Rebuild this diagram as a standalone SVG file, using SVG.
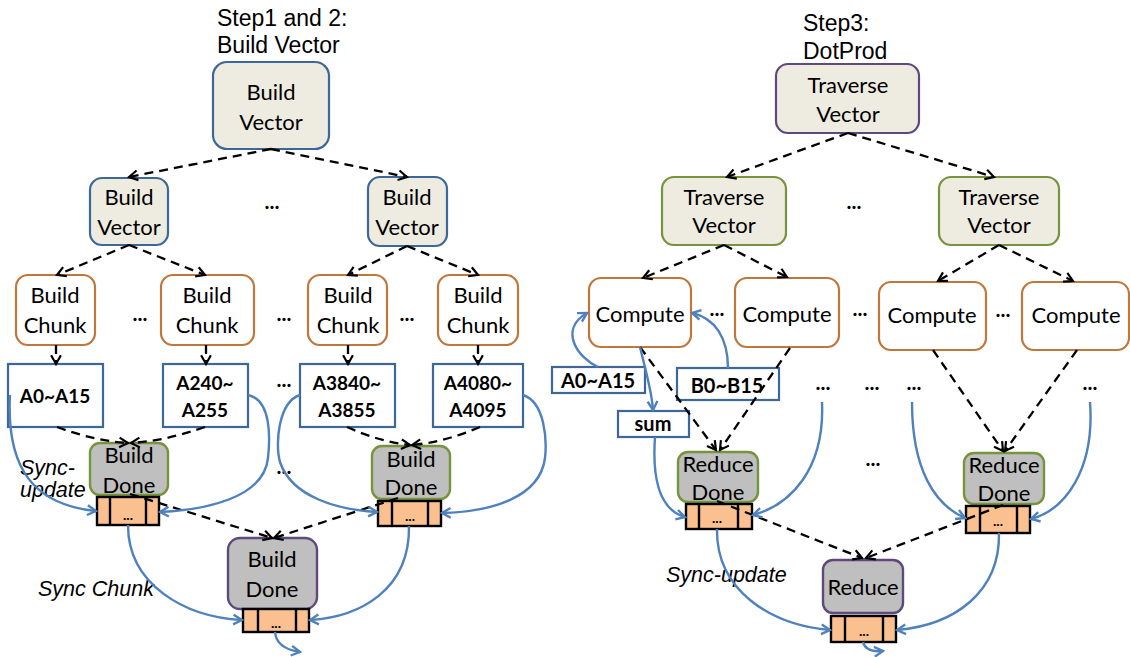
<svg xmlns="http://www.w3.org/2000/svg" width="1130" height="657" viewBox="0 0 1130 657">
  <defs>
    <style>
      .title { font-family: "Liberation Sans", Arial, sans-serif; font-size: 23px; fill: #000; }
      .lbl { font-family: Lato, "Open Sans", sans-serif; font-size: 22px; fill: #000; text-anchor: middle; }
      .data { font-family: Lato, "Open Sans", sans-serif; font-weight: bold; font-size: 19px; fill: #000; text-anchor: middle; }
      .data2 { font-family: Lato, "Open Sans", sans-serif; font-weight: bold; font-size: 20px; fill: #000; text-anchor: middle; }
      .dots { font-family: Lato, "Open Sans", sans-serif; font-weight: bold; font-size: 21px; fill: #000; text-anchor: middle; }
      .qdots { font-family: Lato, "Open Sans", sans-serif; font-weight: bold; font-size: 14px; fill: #000; text-anchor: middle; }
      .ital { font-family: "Liberation Sans", Arial, sans-serif; font-style: italic; font-size: 21.5px; fill: #000; }
      .vec { fill: #eeece1; stroke: #3c6798; stroke-width: 2.2; }
      .trv { fill: #eeece1; stroke: #5f497a; stroke-width: 2.2; }
      .trv2 { fill: #eeece1; stroke: #77933c; stroke-width: 2.2; }
      .chunk { fill: #fff; stroke: #c0773c; stroke-width: 2.2; }
      .box { fill: #fff; stroke: #3c6798; stroke-width: 2.2; }
      .done { fill: #bfbfbf; stroke: #77933c; stroke-width: 2.4; }
      .done2 { fill: #bfbfbf; stroke: #5f497a; stroke-width: 2.4; }
      .q { fill: #fac090; stroke: #000; stroke-width: 2.4; }
      .qd { stroke: #000; stroke-width: 2.4; }
      .dash { fill: none; stroke: #000; stroke-width: 2.3; stroke-dasharray: 9 6; marker-end: url(#ah); }
      .sync { fill: none; stroke: #4f81bd; stroke-width: 2.4; marker-end: url(#bh); }
    </style>
    <marker id="ah" viewBox="0 0 12 12" refX="10" refY="6" markerWidth="13" markerHeight="13" markerUnits="userSpaceOnUse" orient="auto">
      <path d="M2,1.5 L10,6 L2,10.5" fill="none" stroke="#000" stroke-width="2"/>
    </marker>
    <marker id="bh" viewBox="0 0 12 12" refX="10" refY="6" markerWidth="13" markerHeight="13" markerUnits="userSpaceOnUse" orient="auto">
      <path d="M2,1.5 L10,6 L2,10.5" fill="none" stroke="#4f81bd" stroke-width="2.2"/>
    </marker>
  </defs>

  <rect width="1130" height="657" fill="#fff"/>

  <!-- titles -->
  <text class="title" x="217" y="26">Step1 and 2:</text>
  <text class="title" x="217" y="53">Build Vector</text>
  <text class="title" x="803" y="31">Step3:</text>
  <text class="title" x="803" y="59">DotProd</text>

  <!-- ===== Build vector side ===== -->
  <g id="bv-root">
    <rect class="vec" x="213" y="62" width="116" height="87" rx="14"/>
    <text class="lbl" x="271" y="100">Build</text>
    <text class="lbl" x="271" y="130">Vector</text>
  </g>
  <g id="bv-left">
    <rect class="vec" x="90" y="178" width="78" height="67" rx="12"/>
    <text class="lbl" x="129" y="205">Build</text>
    <text class="lbl" x="129" y="235">Vector</text>
  </g>
  <g id="bv-right">
    <rect class="vec" x="368" y="177" width="79" height="69" rx="12"/>
    <text class="lbl" x="407" y="205">Build</text>
    <text class="lbl" x="407" y="235">Vector</text>
  </g>

  <g id="chunk-1">
    <rect class="chunk" x="16" y="275" width="79" height="70" rx="12"/>
    <text class="lbl" x="55" y="303">Build</text>
    <text class="lbl" x="55" y="333">Chunk</text>
  </g>
  <g id="chunk-2">
    <rect class="chunk" x="161" y="275" width="93" height="70" rx="12"/>
    <text class="lbl" x="207" y="303">Build</text>
    <text class="lbl" x="207" y="333">Chunk</text>
  </g>
  <g id="chunk-3">
    <rect class="chunk" x="308" y="275" width="79" height="70" rx="12"/>
    <text class="lbl" x="348" y="303">Build</text>
    <text class="lbl" x="348" y="333">Chunk</text>
  </g>
  <g id="chunk-4">
    <rect class="chunk" x="438" y="275" width="80" height="70" rx="12"/>
    <text class="lbl" x="478" y="303">Build</text>
    <text class="lbl" x="478" y="333">Chunk</text>
  </g>

  <g id="data-a0">
    <rect class="box" x="8" y="364" width="95" height="63"/>
    <text class="data" x="55" y="403">A0~A15</text>
  </g>
  <g id="data-a240">
    <rect class="box" x="163" y="364" width="85" height="63"/>
    <text class="data" x="205" y="390">A240~</text>
    <text class="data" x="205" y="417">A255</text>
  </g>
  <g id="data-a3840">
    <rect class="box" x="300" y="364" width="95" height="63"/>
    <text class="data" x="347" y="390">A3840~</text>
    <text class="data" x="347" y="417">A3855</text>
  </g>
  <g id="data-a4080">
    <rect class="box" x="433" y="364" width="90" height="63"/>
    <text class="data" x="478" y="390">A4080~</text>
    <text class="data" x="478" y="417">A4095</text>
  </g>

  <g id="build-done-left">
    <rect class="done" x="90" y="443" width="78" height="52" rx="10"/>
    <text class="lbl" x="129" y="463">Build</text>
    <text class="lbl" x="129" y="493">Done</text>
  </g>
  <g id="queue-left">
    <rect class="q" x="97" y="497" width="62" height="28"/>
    <line class="qd" x1="110" y1="497" x2="110" y2="525"/>
    <line class="qd" x1="146" y1="497" x2="146" y2="525"/>
    <text class="qdots" x="128" y="520">...</text>
  </g>
  <g id="build-done-right">
    <rect class="done" x="372" y="446" width="78" height="53" rx="10"/>
    <text class="lbl" x="411" y="467">Build</text>
    <text class="lbl" x="411" y="495">Done</text>
  </g>
  <g id="queue-right">
    <rect class="q" x="378" y="501" width="63" height="25"/>
    <line class="qd" x1="392" y1="501" x2="392" y2="526"/>
    <line class="qd" x1="428" y1="501" x2="428" y2="526"/>
    <text class="qdots" x="410" y="521">...</text>
  </g>
  <g id="build-done-root">
    <rect class="done2" x="228" y="538" width="89" height="71" rx="12"/>
    <text class="lbl" x="272" y="567">Build</text>
    <text class="lbl" x="272" y="597">Done</text>
  </g>
  <g id="queue-root">
    <rect class="q" x="243" y="609" width="66" height="23"/>
    <line class="qd" x1="258" y1="609" x2="258" y2="632"/>
    <line class="qd" x1="296" y1="609" x2="296" y2="632"/>
    <text class="qdots" x="276" y="628">...</text>
  </g>

  <!-- ===== Dot product side ===== -->
  <g id="tv-root">
    <rect class="trv" x="776" y="64" width="143" height="69" rx="12"/>
    <text class="lbl" x="848" y="93">Traverse</text>
    <text class="lbl" x="848" y="122">Vector</text>
  </g>
  <g id="tv-left">
    <rect class="trv2" x="662" y="177" width="124" height="68" rx="12"/>
    <text class="lbl" x="724" y="205">Traverse</text>
    <text class="lbl" x="724" y="233">Vector</text>
  </g>
  <g id="tv-right">
    <rect class="trv2" x="939" y="177" width="120" height="68" rx="12"/>
    <text class="lbl" x="999" y="205">Traverse</text>
    <text class="lbl" x="999" y="233">Vector</text>
  </g>

  <g id="compute-1">
    <rect class="chunk" x="589" y="278" width="102" height="69" rx="12"/>
    <text class="lbl" x="640" y="322">Compute</text>
  </g>
  <g id="compute-2">
    <rect class="chunk" x="735" y="278" width="104" height="69" rx="12"/>
    <text class="lbl" x="787" y="322">Compute</text>
  </g>
  <g id="compute-3">
    <rect class="chunk" x="879" y="282" width="107" height="68" rx="12"/>
    <text class="lbl" x="932" y="323">Compute</text>
  </g>
  <g id="compute-4">
    <rect class="chunk" x="1022" y="282" width="107" height="68" rx="12"/>
    <text class="lbl" x="1076" y="323">Compute</text>
  </g>

  <g id="data-a">
    <rect class="box" x="552" y="367" width="93" height="26"/>
    <text class="data2" x="598" y="388">A0~A15</text>
  </g>
  <g id="data-b">
    <rect class="box" x="677" y="368" width="102" height="32"/>
    <text class="data2" x="727" y="393">B0~B15</text>
  </g>
  <g id="data-sum">
    <rect class="box" x="618" y="411" width="71" height="26"/>
    <text class="data2" x="653" y="431">sum</text>
  </g>

  <g id="reduce-done-left">
    <rect class="done" x="678" y="452" width="80" height="50" rx="10"/>
    <text class="lbl" x="718" y="472">Reduce</text>
    <text class="lbl" x="718" y="500">Done</text>
  </g>
  <g id="rqueue-left">
    <rect class="q" x="686" y="504" width="66" height="25"/>
    <line class="qd" x1="699" y1="504" x2="699" y2="529"/>
    <line class="qd" x1="738" y1="504" x2="738" y2="529"/>
    <text class="qdots" x="717" y="523">...</text>
  </g>
  <g id="reduce-done-right">
    <rect class="done" x="964" y="453" width="80" height="51" rx="10"/>
    <text class="lbl" x="1004" y="473">Reduce</text>
    <text class="lbl" x="1004" y="501">Done</text>
  </g>
  <g id="rqueue-right">
    <rect class="q" x="966" y="506" width="64" height="27"/>
    <line class="qd" x1="980" y1="506" x2="980" y2="533"/>
    <line class="qd" x1="1017" y1="506" x2="1017" y2="533"/>
    <text class="qdots" x="998" y="526">...</text>
  </g>
  <g id="reduce-root">
    <rect class="done2" x="823" y="560" width="80" height="53" rx="10"/>
    <text class="lbl" x="863" y="595">Reduce</text>
  </g>
  <g id="rqueue-root">
    <rect class="q" x="831" y="616" width="65" height="26"/>
    <line class="qd" x1="845" y1="616" x2="845" y2="642"/>
    <line class="qd" x1="883" y1="616" x2="883" y2="642"/>
    <text class="qdots" x="864" y="636">...</text>
  </g>

  <!-- elision marks -->
  <g id="ellipses">
    <text class="dots" x="272" y="209">...</text>
    <text class="dots" x="140" y="321">...</text>
    <text class="dots" x="284" y="321">...</text>
    <text class="dots" x="407" y="321">...</text>
    <text class="dots" x="284" y="387">...</text>
    <text class="dots" x="284" y="474">...</text>
    <text class="dots" x="854" y="209">...</text>
    <text class="dots" x="717" y="316">...</text>
    <text class="dots" x="860" y="316">...</text>
    <text class="dots" x="1003" y="317">...</text>
    <text class="dots" x="823" y="390">...</text>
    <text class="dots" x="872" y="390">...</text>
    <text class="dots" x="914" y="390">...</text>
    <text class="dots" x="1090" y="390">...</text>
    <text class="dots" x="873" y="466">...</text>
  </g>

  <!-- italic captions -->
  <text class="ital" x="20" y="475">Sync-</text>
  <text class="ital" x="20" y="497">update</text>
  <text class="ital" x="38" y="596">Sync Chunk</text>
  <text class="ital" x="666" y="582">Sync-update</text>

  <!-- connectors -->
  <g id="connectors">
    <!-- task spawn (dashed) -->
    <path class="dash" d="M271,149 L129,177"/>
    <path class="dash" d="M271,149 L407,177"/>
    <path class="dash" d="M129,245 L57,275"/>
    <path class="dash" d="M129,245 L205,275"/>
    <path class="dash" d="M407,246 L348,275"/>
    <path class="dash" d="M407,246 L478,275"/>
    <path class="dash" d="M56,345 L56,364"/>
    <path class="dash" d="M206,345 L206,364"/>
    <path class="dash" d="M348,345 L348,364"/>
    <path class="dash" d="M478,345 L478,364"/>
    <path class="dash" d="M57,427 Q95,441 128,443"/>
    <path class="dash" d="M205,427 Q165,441 131,443"/>
    <path class="dash" d="M347,427 Q380,442 410,445"/>
    <path class="dash" d="M480,427 Q445,442 412,445"/>
    <path class="dash" d="M130,494 L272,538"/>
    <path class="dash" d="M398,498 L274,538"/>

    <path class="dash" d="M848,133 L727,177"/>
    <path class="dash" d="M848,133 L994,177"/>
    <path class="dash" d="M724,245 L643,278"/>
    <path class="dash" d="M724,245 L787,277"/>
    <path class="dash" d="M999,245 L938,281"/>
    <path class="dash" d="M999,245 L1073,281"/>
    <path class="dash" d="M640,347 L716,450"/>
    <path class="dash" d="M790,348 L720,450"/>
    <path class="dash" d="M933,350 L1003,451"/>
    <path class="dash" d="M1077,350 L1005,451"/>
    <path class="dash" d="M717,501 L862,558"/>
    <path class="dash" d="M1003,505 L866,558"/>

    <!-- data flow (blue) -->
    <path class="sync" d="M10,395 C6,470 35,505 96,511"/>
    <path class="sync" d="M248,395 C272,400 270,440 268,458 C264,498 205,510 160,512"/>
    <path class="sync" d="M300,395 C278,402 275,445 280,462 C292,498 340,510 377,512"/>
    <path class="sync" d="M523,395 C545,402 547,440 545,458 C540,498 490,512 442,513"/>
    <path class="sync" d="M128,525 C128,585 185,617 242,620"/>
    <path class="sync" d="M409,526 C410,590 360,617 310,620"/>
    <path class="sync" d="M275,632 C276,645 287,650 300,652"/>

    <path class="sync" d="M598,367 C578,358 558,330 587,313"/>
    <path class="sync" d="M728,368 C728,338 715,318 692,313"/>
    <path class="sync" d="M640,347 C646,372 652,392 653,410"/>
    <path class="sync" d="M655,437 C652,480 660,510 685,517"/>
    <path class="sync" d="M822,402 C825,470 790,505 753,515"/>
    <path class="sync" d="M912,402 C912,470 935,505 965,518"/>
    <path class="sync" d="M1090,402 C1095,470 1065,510 1031,519"/>
    <path class="sync" d="M717,529 C716,590 770,625 830,630"/>
    <path class="sync" d="M999,533 C1000,592 955,625 897,630"/>
    <path class="sync" d="M863,642 C865,650 872,652 883,651"/>
  </g>
</svg>
